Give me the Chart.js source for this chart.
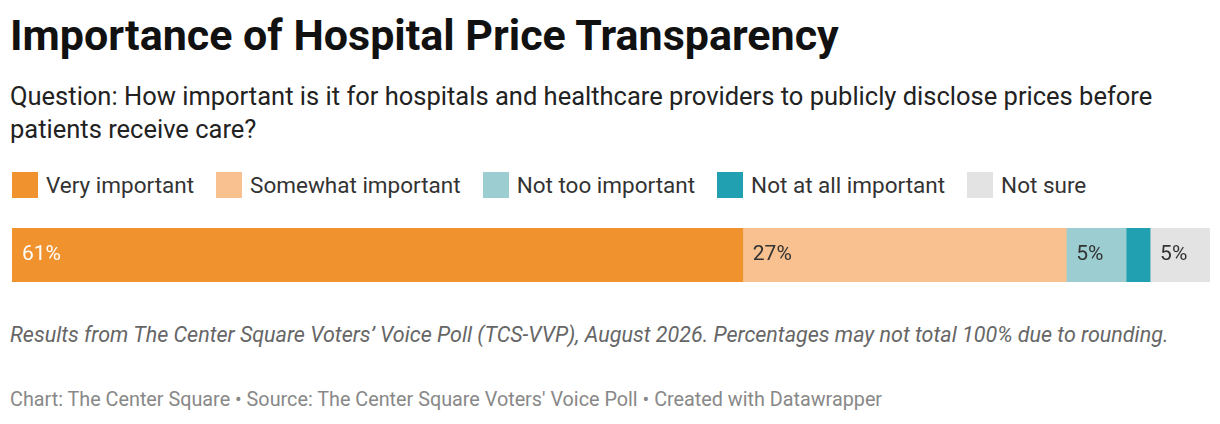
<!DOCTYPE html>
<html><head><meta charset="utf-8">
<script src="https://cdn.jsdelivr.net/npm/chart.js@4"></script>
<style>
body{margin:0;width:1220px;height:424px;background:#fff;font-family:Roboto,sans-serif;position:relative;overflow:hidden}
.t{position:absolute;left:10px;top:10px;font-size:43px;font-weight:700;color:#111}
.q{position:absolute;left:10px;top:80px;font-size:25.5px;line-height:33px;color:#222;width:1200px}
.lg{position:absolute;left:12px;top:172px;font-size:22.5px;color:#333;display:flex}
.lg span{display:flex;align-items:center;margin-right:22px}
.lg i{display:inline-block;width:26px;height:26px;margin-right:8px}
.n{position:absolute;left:10px;top:320px;font-size:21.5px;line-height:30px;font-style:italic;color:#666;width:1200px}
.s{position:absolute;left:10px;top:388px;font-size:19.8px;color:#888}
#w{position:absolute;left:12px;top:228px;width:1198px;height:54px}
</style></head><body>
<div class="t">Importance of Hospital Price Transparency</div>
<div class="q">Question: How important is it for hospitals and healthcare providers to publicly disclose prices before patients receive care?</div>
<div class="lg" id="lg"></div>
<div id="w"><canvas id="c"></canvas></div>
<div class="n">Results from The Center Square Voters’ Voice Poll (TCS-VVP), August 2026. Percentages may not total 100% due to rounding.</div>
<div class="s">Chart: The Center Square • Source: The Center Square Voters' Voice Poll • Created with Datawrapper</div>
<script>
const categories = ["Very important","Somewhat important","Not too important","Not at all important","Not sure"];
const values = [61,27,5,2,5];
const labels = ["61%","27%","5%","","5%"];
const colors = ["#f0932f","#f8c18f","#9ccdd0","#20a0b0","#e3e3e3"];
const textColors = ["#fff","#333","#333","#333","#333"];

document.getElementById("lg").innerHTML = categories.map((c,i)=>`<span><i style="background:${colors[i]}"></i>${c}</span>`).join("");

const labelPlugin = {
  id: "lbl",
  afterDatasetsDraw(chart){
    const ctx = chart.ctx;
    ctx.save();
    ctx.font = "21px Roboto";
    ctx.textBaseline = "middle";
    chart.data.datasets.forEach((d,i)=>{
      const bar = chart.getDatasetMeta(i).data[0];
      if(!labels[i]) return;
      ctx.fillStyle = textColors[i];
      ctx.fillText(labels[i], bar.base + 10, bar.y);
    });
    ctx.restore();
  }
};

new Chart(document.getElementById("c"), {
  type: "bar",
  data: {
    labels: [""],
    datasets: categories.map((c,i)=>({label:c,data:[values[i]],backgroundColor:colors[i],barPercentage:1,categoryPercentage:1}))
  },
  options: {
    indexAxis: "y",
    responsive: true, maintainAspectRatio: false, animation: false,
    layout:{padding:0},
    plugins:{legend:{display:false},tooltip:{enabled:false}},
    scales:{
      x:{stacked:true,min:0,max:100,display:false},
      y:{stacked:true,display:false}
    }
  },
  plugins:[labelPlugin]
});
</script>
</body></html>
